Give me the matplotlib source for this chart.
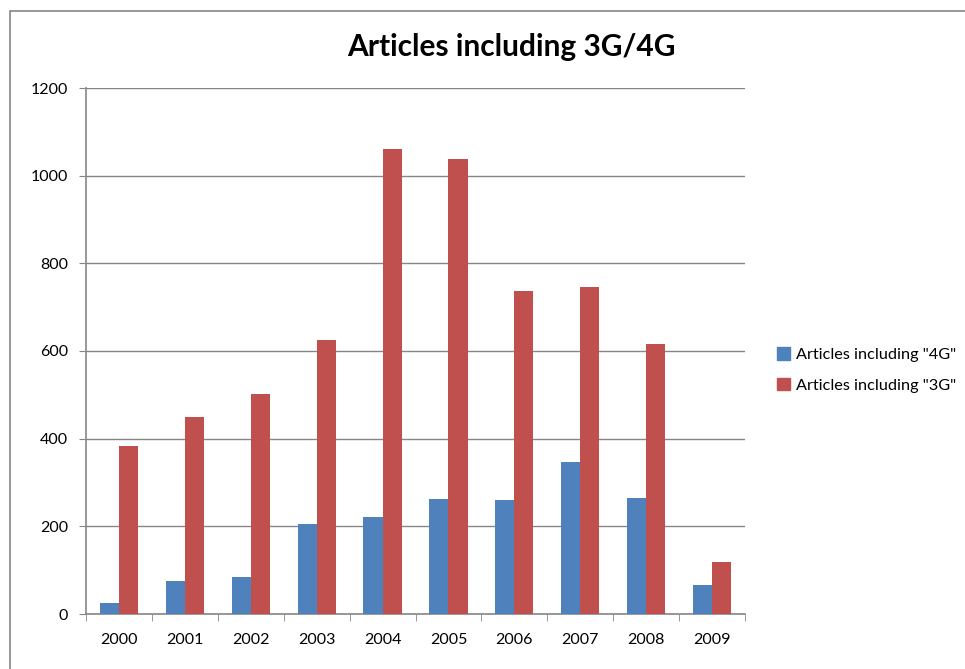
import numpy as np
import matplotlib
matplotlib.use("Agg")
import matplotlib.pyplot as plt
from matplotlib.patches import Rectangle, Patch

years = ["2000", "2001", "2002", "2003", "2004", "2005", "2006", "2007", "2008", "2009"]
articles_4g = [25, 75, 84, 205, 221, 262, 260, 346, 264, 66]
articles_3g = [383, 449, 503, 626, 1061, 1039, 738, 747, 615, 118]
series_names = ['Articles including "4G"', 'Articles including "3G"']

blue = "#4f81bd"
red = "#c0504d"
grey = "#868686"

plt.rcParams["font.family"] = ["Lato", "DejaVu Sans"]

fig = plt.figure(figsize=(9.65, 6.69), dpi=100)
W, H = 965, 669

# outer chart border
fig.patches.append(Rectangle((10 / W, -0.1), 1.0, (H - 11) / H + 0.1,
                             transform=fig.transFigure, fill=False,
                             edgecolor=grey, linewidth=1.2))

ax = fig.add_axes([86 / W, (H - 614) / H, (745 - 86) / W, (614 - 88) / H])

x = np.arange(len(years))
w = 0.29
ax.bar(x - w / 2, articles_4g, w, color=blue, label=series_names[0], zorder=3)
ax.bar(x + w / 2, articles_3g, w, color=red, label=series_names[1], zorder=3)

ax.set_xlim(-0.5, len(years) - 0.5)
ax.set_ylim(0, 1200)
ax.set_yticks(range(0, 1201, 200))
ax.set_xticks(x)
ax.set_xticklabels(years)
ax.set_xticks(np.arange(-0.5, len(years), 1.0), minor=True)

ax.grid(axis="y", color=grey, linewidth=1, zorder=0)
for s in ["top", "right"]:
    ax.spines[s].set_visible(False)
for s in ["left", "bottom"]:
    ax.spines[s].set_color(grey)
    ax.spines[s].set_linewidth(1.2)

ax.tick_params(axis="y", length=5, color=grey, labelsize=11.5, pad=8)
ax.tick_params(axis="x", which="major", length=0, labelsize=11.5, pad=14)
ax.tick_params(axis="x", which="minor", length=5, color=grey)

fig.text(0.53, (H - 47) / H, "Articles including 3G/4G", ha="center", va="center",
         fontsize=21.5, fontweight="bold")

handles = [Patch(color=blue), Patch(color=red)]
fig.legend(handles, series_names, loc="center left",
           bbox_to_anchor=(762 / W, (H - 370) / H), frameon=False,
           fontsize=11.7, handlelength=0.8, handleheight=0.8, handletextpad=0.4,
           labelspacing=0.95)

fig.savefig("out.png", dpi=100)
